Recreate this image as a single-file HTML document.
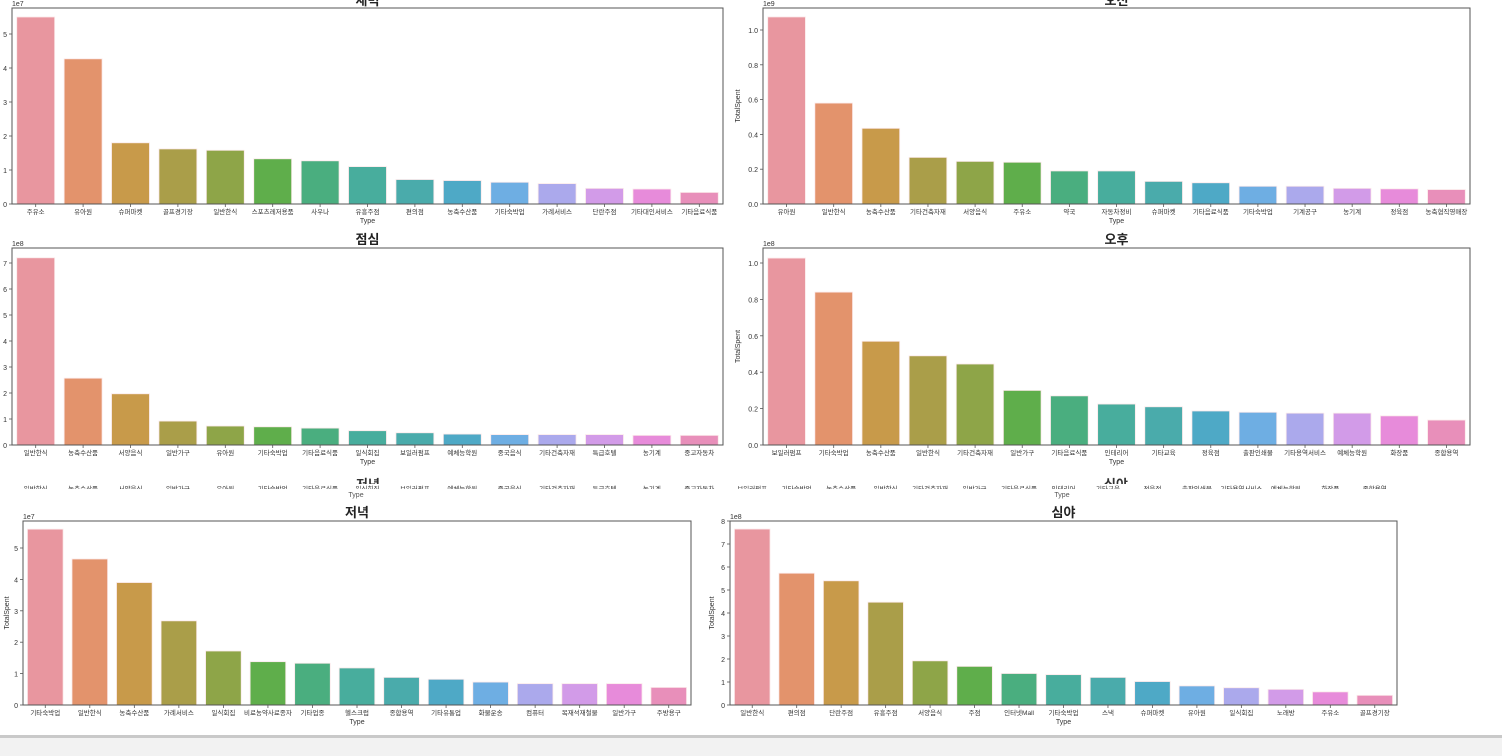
<!DOCTYPE html>
<html><head><meta charset="utf-8">
<style>
html,body{margin:0;padding:0;background:#fff;}
svg{display:block;font-family:"Liberation Sans","Noto Sans CJK KR",sans-serif;}
</style></head>
<body>
<svg id="chart" width="1502" height="756" viewBox="0 0 1502 756" xmlns="http://www.w3.org/2000/svg">
<defs>
<clipPath id="ghostLabels"><rect x="0" y="485" width="1502" height="4"/></clipPath>
<clipPath id="ghostTitles"><rect x="0" y="476" width="1502" height="8"/></clipPath>
</defs>
<rect x="0" y="735" width="1502" height="3" fill="#c9c9c9"/>
<rect x="0" y="738" width="1502" height="18" fill="#f2f2f2"/>
<g id="ghost">
<text x="356" y="497" font-size="7" fill="#555" text-anchor="middle">Type</text>
<text x="1062" y="497" font-size="7" fill="#555" text-anchor="middle">Type</text>
<g clip-path="url(#ghostTitles)">
<text x="368" y="489" font-size="13" font-weight="bold" fill="#333" text-anchor="middle">저녁</text>
<text x="1116" y="489" font-size="13" font-weight="bold" fill="#333" text-anchor="middle">심야</text>
</g>
</g>
</svg>
<script>
const colors=["#e8969f","#e3936c","#c89a4a","#aa9e49","#8ea548","#5fae4b","#4aae7f","#48ad9d","#4aabab","#4ea9c6","#6eaee3","#aba9ec","#d29be8","#e78bda","#e88fba"];

const cat1=["주유소","유아원","슈퍼마켓","골프경기장","일반한식","스포츠레저용품","사우나","유흥주점","편의점","농축수산품","기타숙박업","가례서비스","단란주점","기타대인서비스","기타음료식품"];
const val1=[5.5,4.27,1.8,1.62,1.58,1.33,1.27,1.1,0.72,0.69,0.64,0.6,0.46,0.44,0.34];
const tick1=[0,1,2,3,4,5];

const cat2=["유아원","일반한식","농축수산품","기타건축자재","서양음식","주유소","약국","자동차정비","슈퍼마켓","기타음료식품","기타숙박업","기계공구","농기계","정육점","농축협직영매장"];
const val2=[1.075,0.58,0.435,0.268,0.245,0.24,0.19,0.19,0.13,0.122,0.102,0.102,0.09,0.087,0.083];
const tick2=[0,0.2,0.4,0.6,0.8,1.0];

const cat3=["일반한식","농축수산품","서양음식","일반가구","유아원","기타숙박업","기타음료식품","일식회집","보일러펌프","예체능학원","중국음식","기타건축자재","특급호텔","농기계","중고자동차"];
const val3=[7.2,2.57,1.97,0.92,0.73,0.7,0.65,0.55,0.47,0.42,0.4,0.4,0.4,0.37,0.37];
const tick3=[0,1,2,3,4,5,6,7];

const cat4=["보일러펌프","기타숙박업","농축수산품","일반한식","기타건축자재","일반가구","기타음료식품","인테리어","기타교육","정육점","출판인쇄물","기타용역서비스","예체능학원","화장품","종합용역"];
const val4=[1.027,0.84,0.57,0.49,0.445,0.30,0.27,0.225,0.21,0.187,0.18,0.175,0.175,0.16,0.137];
const tick4=[0,0.2,0.4,0.6,0.8,1.0];

const cat5=["기타숙박업","일반한식","농축수산품","가례서비스","일식회집","비료농약사료종자","기타업종","헬스크럽","종합용역","기타유통업","화물운송","컴퓨터","목재석재철물","일반가구","주방용구"];
const val5=[5.6,4.65,3.9,2.68,1.72,1.38,1.33,1.18,0.88,0.82,0.73,0.68,0.68,0.68,0.56];
const tick5=[0,1,2,3,4,5];

const cat6=["일반한식","편의점","단란주점","유흥주점","서양음식","주점","인터넷Mall","기타숙박업","스낵","슈퍼마켓","유아원","일식회집","노래방","주유소","골프경기장"];
const val6=[7.65,5.73,5.4,4.47,1.92,1.68,1.37,1.32,1.2,1.02,0.83,0.75,0.68,0.57,0.42];
const tick6=[0,1,2,3,4,5,6,7,8];

const NS="http://www.w3.org/2000/svg";
const svg=document.getElementById('chart');
function mk(tag,attrs,parent){const e=document.createElementNS(NS,tag);for(const k in attrs)e.setAttribute(k,attrs[k]);(parent||svg).appendChild(e);return e;}

// ghost label rows (clipped fragments between rows)
const ghost=document.getElementById('ghost');
const gl=mk('g',{"clip-path":"url(#ghostLabels)"},ghost);
function ghostRow(cats,x0,x1){
  const slot=(x1-x0)/cats.length;
  cats.forEach((c,i)=>{
    const t=mk('text',{x:x0+slot*(i+0.5),y:491,"font-size":6.5,fill:"#333","text-anchor":"middle"},gl);
    t.textContent=c;
  });
}
ghostRow(cat3,12,723);
ghostRow(cat4,730,1397);

function panel(id,box,title,mult,ylab,cats,vals,ticks,tickFmt){
  const g=mk('g',{});
  
  
  const {x0,x1,y0,y1,ppu}=box;
  const yS=v=>y1-v*ppu;
  const n=cats.length, slot=(x1-x0)/n;
  const xS=i=>x0+slot*(i+0.5);
  vals.forEach((v,i)=>{
    const r=mk('rect',{x:xS(i)-slot*0.4,y:yS(v),width:slot*0.8,height:v*ppu,fill:colors[i%colors.length],stroke:"#fbe9ea","stroke-width":0.8},g);
    
    
  });
  const fr=mk('rect',{x:x0,y:y0,width:x1-x0,height:y1-y0,fill:"none",stroke:"#555","stroke-width":1},g);
  
  
  ticks.forEach(t=>{
    const y=yS(t);
    mk('line',{x1:x0-3,x2:x0,y1:y,y2:y,stroke:"#555","stroke-width":0.8},g);
    const tx=mk('text',{x:x0-5,y:y+3,"font-size":7,fill:"#333","text-anchor":"end"},g);
    tx.textContent=tickFmt(t);
    
    
  });
  cats.forEach((c,i)=>{
    const x=xS(i);
    mk('line',{x1:x,x2:x,y1:y1,y2:y1+3,stroke:"#555","stroke-width":0.8},g);
    const tx=mk('text',{x:x,y:y1+10,"font-size":6.5,fill:"#333","text-anchor":"middle"},g);
    tx.textContent=c;
    
    
  });
  const xt=mk('text',{x:(x0+x1)/2,y:y1+19,"font-size":7,fill:"#333","text-anchor":"middle"},g);
  xt.textContent="Type";
  
  
  const mt=mk('text',{x:x0,y:y0-2,"font-size":7,fill:"#333"},g);
  mt.textContent=mult;
  
  
  if(ylab){
    const yx=x0-ylab, yy=(y0+y1)/2;
    const yt=mk('text',{x:yx,y:yy,"font-size":7,fill:"#333","text-anchor":"middle",transform:`rotate(-90 ${yx} ${yy})`},g);
    yt.textContent="TotalSpent";
    
    
  }
  const tt=mk('text',{x:(x0+x1)/2,y:title.y,"font-size":13,"font-weight":"bold",fill:"#222","text-anchor":"middle"},g);
  tt.textContent=title.t;
  
  
}
const fInt=t=>String(t), fDec=t=>t.toFixed(1);
panel('dawn',{x0:12,x1:723,y0:8,y1:204,ppu:34},{t:"새벽",y:5},"1e7",0,cat1,val1,tick1,fInt);
panel('morning',{x0:763,x1:1470,y0:8,y1:204,ppu:174},{t:"오전",y:5},"1e9",23,cat2,val2,tick2,fDec);
panel('lunch',{x0:12,x1:723,y0:248,y1:445,ppu:26},{t:"점심",y:244},"1e8",0,cat3,val3,tick3,fInt);
panel('afternoon',{x0:763,x1:1470,y0:248,y1:445,ppu:182},{t:"오후",y:244},"1e8",23,cat4,val4,tick4,fDec);
panel('evening',{x0:23,x1:691,y0:521,y1:705,ppu:31.4},{t:"저녁",y:517},"1e7",14,cat5,val5,tick5,fInt);
panel('night',{x0:730,x1:1397,y0:521,y1:705,ppu:23},{t:"심야",y:517},"1e8",16,cat6,val6,tick6,fInt);
</script>
</body></html>
